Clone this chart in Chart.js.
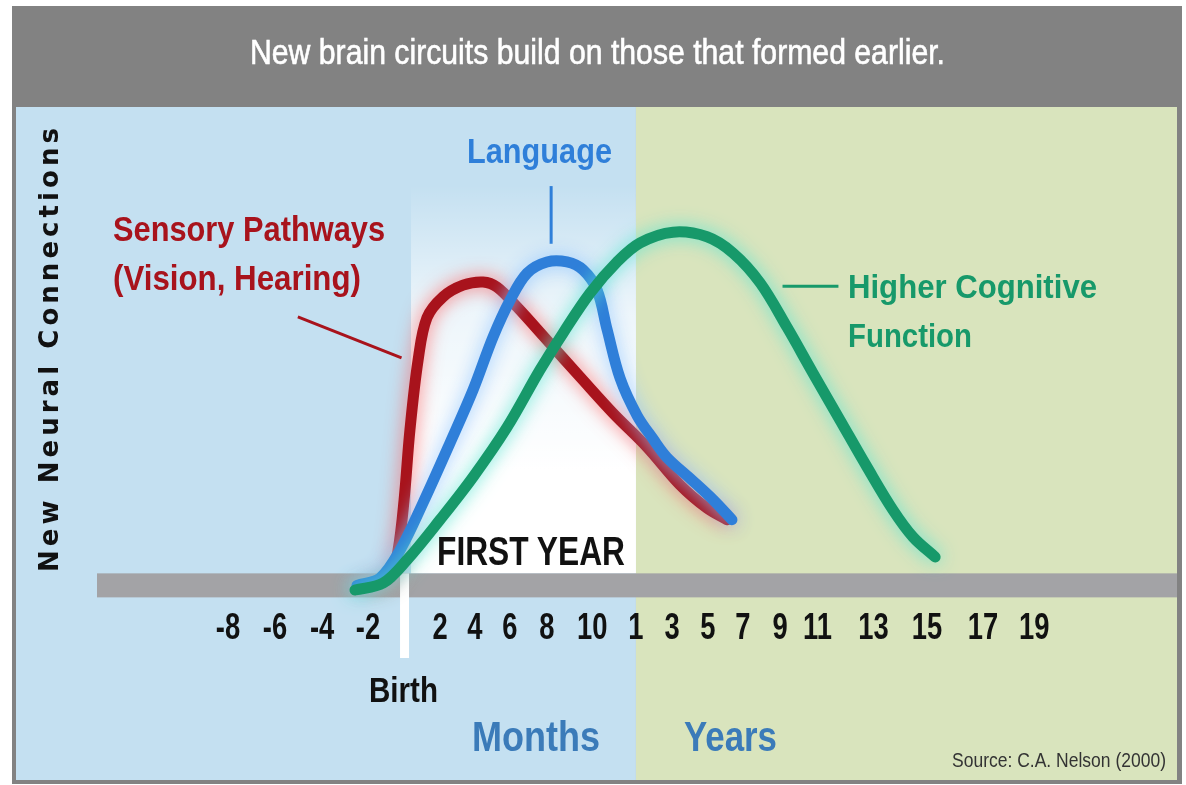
<!DOCTYPE html>
<html lang="en">
<head>
<meta charset="utf-8">
<title>New brain circuits build on those that formed earlier.</title>
<script src="https://cdn.jsdelivr.net/npm/chart.js@4.4.1/dist/chart.umd.min.js"></script>
<style>
html,body{margin:0;padding:0;background:#ffffff;overflow:hidden;}
#wrap{position:relative;width:1186px;height:785px;overflow:hidden;}
#frame{position:absolute;left:12px;top:6px;width:1170px;height:778px;background:#828282;}
#chart{position:absolute;left:0;top:0;}
.t{position:absolute;white-space:nowrap;margin:0;padding:0;}
</style>
</head>
<body>
<div id="wrap">
  <div id="frame"></div>
  <canvas id="chart" width="1186" height="785"></canvas>
</div>
<script>
// ---------------- DATA ----------------
const chartTitle = 'New brain circuits build on those that formed earlier.';
const yAxisTitle = 'New Neural Connections';
const sourceNote = 'Source: C.A. Nelson (2000)';

// x axis: tick labels (months before/after birth, then years) and their positions along the drawn axis
const tickLabels    = ['-8','-6','-4','-2','2','4','6','8','10','1','3','5','7','9','11','13','15','17','19'];
const tickPositions = [-7.6,-5.58,-3.56,-1.59,1.5,3.0,4.5,6.09,8.03,9.91,11.46,13.0,14.5,16.1,17.7,20.1,22.4,24.8,27.0];
const birthPosition = 0;
const firstYearEnd  = 9.91;   // the "1" (year) tick

// Sensory Pathways (Vision, Hearing)
const sensoryX = [-1.5,-0.64,-0.3,-0.04,0.21,0.56,0.94,1.63,2.49,3.35,3.95,4.81,6.09,7.51,8.93,10.39,11.8,12.96,13.82];
const sensoryY = [0,1.6,7.6,18.4,33.4,48.4,57.5,62.0,64.5,65.2,64.1,59.8,52.7,44.8,37.0,29.7,21.6,16.6,14.1];

// Language
const languageX = [-2.06,-1.07,-0.21,0.77,1.93,2.92,3.78,4.51,5.24,6.09,6.95,7.64,8.24,8.67,9.23,9.96,10.64,11.24,12.23,13.22,14.03];
const languageY = [0,1.6,7.6,17.7,30.6,42.0,53.4,61.3,67.1,69.5,69.5,67.8,63.5,55.0,44.5,36.5,31.5,27.5,23.0,18.4,14.1];

// Higher Cognitive Function
const cognitiveX = [-2.15,-0.94,0.09,1.5,2.92,4.38,5.79,6.78,7.94,9.1,10.09,11.5,12.96,14.08,15.24,16.39,17.51,18.67,19.83,20.94,21.8,22.75];
const cognitiveY = [-1.0,0.5,5.5,14.1,23.3,34.0,46.3,54.2,62.8,69.5,73.6,75.9,74.9,71.4,65.0,55.5,45.6,35.5,25.4,16.2,10.4,6.1];

// leader lines from labels to curves [x, y] in data units
const sensoryLeader   = [[-4.6, 57.7], [-0.15, 48.9]];
const languageLeader  = [[6.27, 85.8], [6.27, 73.4]];
const cognitiveLeader = [[16.2, 64.3], [18.6, 64.3]];

// ---------------- STYLE ----------------
const RED = '#a8131c', BLUE = '#2f7fd9', GREEN = '#17996a';
const BG_BLUE = '#c4e0f1', BG_GREEN = '#d9e4bd', BAR = '#a3a3a6';
const PANEL = {l:16, t:107, r:1177, b:780};
const AREA_BOTTOM = 597;

const pts = (xs, ys) => xs.map((v, i) => ({x: v, y: ys[i]}));

const backdrop = {
  id: 'backdrop',
  beforeDraw(chart) {
    const {ctx, chartArea} = chart;
    const x = chart.scales.x, y = chart.scales.y;
    const xb = x.getPixelForValue(birthPosition);
    const xf = x.getPixelForValue(firstYearEnd);
    const y0 = y.getPixelForValue(0);
    ctx.save();
    ctx.fillStyle = BG_BLUE;
    ctx.fillRect(PANEL.l, PANEL.t, xf - PANEL.l, PANEL.b - PANEL.t);
    ctx.fillStyle = BG_GREEN;
    ctx.fillRect(xf, PANEL.t, PANEL.r - xf, PANEL.b - PANEL.t);
    // first-year light area
    const top = 185;
    const g = ctx.createLinearGradient(0, top, 0, 470);
    g.addColorStop(0, 'rgba(255,255,255,0)');
    g.addColorStop(0.45, 'rgba(255,255,255,0.7)');
    g.addColorStop(1, 'rgba(255,255,255,1)');
    ctx.fillStyle = g;
    ctx.fillRect(xb + 6, top, xf - xb - 6, (y0 - 12) - top);
    // axis bar
    ctx.fillStyle = BAR;
    ctx.fillRect(chartArea.left, y0 - 12, PANEL.r - chartArea.left, 24);
    // birth marker
    ctx.fillStyle = '#ffffff';
    ctx.fillRect(xb - 5, y0 - 12, 9, 658 - (y0 - 12));
    ctx.restore();
  },
  beforeDatasetsDraw(chart) {
    const {ctx} = chart;
    const x = chart.scales.x, y = chart.scales.y;
    const lines = [[sensoryLeader, RED], [languageLeader, BLUE], [cognitiveLeader, GREEN]];
    ctx.save();
    ctx.lineWidth = 3;
    for (const [seg, col] of lines) {
      ctx.strokeStyle = col;
      ctx.beginPath();
      ctx.moveTo(x.getPixelForValue(seg[0][0]), y.getPixelForValue(seg[0][1]));
      ctx.lineTo(x.getPixelForValue(seg[1][0]), y.getPixelForValue(seg[1][1]));
      ctx.stroke();
    }
    ctx.restore();
  },
  beforeDatasetDraw(chart, args) {
    const ds = chart.data.datasets[args.index];
    chart.ctx.save();
    chart.ctx.shadowColor = ds.glowColor;
    chart.ctx.shadowBlur = 18;
  },
  afterDatasetDraw(chart) {
    chart.ctx.restore();
  },
  afterDraw(chart) {
    // x tick labels from the axis' own ticks, drawn in a condensed bold face
    const {ctx, chartArea} = chart;
    const x = chart.scales.x;
    ctx.save();
    ctx.font = 'bold 36px "Liberation Sans", Arial, sans-serif';
    ctx.fillStyle = '#111111';
    ctx.textAlign = 'center';
    ctx.textBaseline = 'alphabetic';
    const base = chartArea.bottom + 42;
    x.ticks.forEach(t => {
      ctx.save();
      ctx.translate(x.getPixelForValue(t.value), base);
      ctx.scale(0.76, 1);
      ctx.fillText(t.label, 0, 0);
      ctx.restore();
    });
    ctx.restore();
  }
};

const lineStyle = {pointRadius:0, borderWidth:11, tension:0.35, borderCapStyle:'round', borderJoinStyle:'round', fill:false, clip:false};

new Chart(document.getElementById('chart'), {
  type: 'line',
  data: {
    datasets: [
      Object.assign({label:'Higher Cognitive Function', data: pts(cognitiveX, cognitiveY), borderColor: GREEN, glowColor:'rgba(90,230,210,0.9)'}, lineStyle),
      Object.assign({label:'Language', data: pts(languageX, languageY), borderColor: BLUE, glowColor:'rgba(150,200,255,0.95)'}, lineStyle),
      Object.assign({label:'Sensory Pathways (Vision, Hearing)', data: pts(sensoryX, sensoryY), borderColor: RED, glowColor:'rgba(255,90,90,0.8)'}, lineStyle)
    ]
  },
  options: {
    responsive: false,
    animation: false,
    devicePixelRatio: 1,
    layout: {padding: {left: 97, right: 1186 - PANEL.r, top: 120, bottom: 785 - AREA_BOTTOM}},
    plugins: {legend: {display: false}, tooltip: {enabled: false}, title: {display: false}},
    scales: {
      x: {
        type: 'linear', min: -13.22, max: 33.13,
        grid: {display: false, drawTicks: false},
        border: {display: false},
        afterBuildTicks: s => { s.ticks = tickPositions.map(v => ({value: v})); },
        ticks: {display: false, autoSkip: false, callback: (v, i) => tickLabels[i]}
      },
      y: {type: 'linear', min: -2.5, max: 100, display: false}
    }
  },
  plugins: [backdrop]
});

// ---------------- TEXT ----------------
const wrap = document.getElementById('wrap');
function placeText(o) {
  const el = document.createElement('div');
  el.className = 't';
  el.textContent = o.text;
  el.style.fontFamily = '"Liberation Sans", Arial, sans-serif';
  el.style.fontSize = o.size + 'px';
  el.style.lineHeight = o.size + 'px';
  el.style.fontWeight = o.weight;
  el.style.color = o.color;
  if (o.stroke) el.style.webkitTextStroke = o.stroke + 'px ' + o.color;
  el.style.left = o.x + 'px';
  el.style.top = (o.base - 0.8465 * o.size) + 'px';
  wrap.appendChild(el);
  const nat = el.getBoundingClientRect().width;
  el.style.transformOrigin = '0 0';
  el.style.transform = 'scaleX(' + (o.w / nat).toFixed(4) + ')';
}
[
  {text: chartTitle, x: 250, base: 64, size: 35, weight: 400, color: '#ffffff', w: 695, stroke: 0.6},
  {text: 'Sensory Pathways', x: 113, base: 241, size: 35, weight: 700, color: RED, w: 272},
  {text: '(Vision, Hearing)', x: 113, base: 290, size: 35, weight: 700, color: RED, w: 248},
  {text: 'Language', x: 467, base: 163, size: 35, weight: 700, color: BLUE, w: 145},
  {text: 'Higher Cognitive', x: 848, base: 298, size: 33, weight: 700, color: GREEN, w: 249},
  {text: 'Function', x: 848, base: 347, size: 33, weight: 700, color: GREEN, w: 124},
  {text: 'FIRST YEAR', x: 437, base: 565, size: 40, weight: 700, color: '#111111', w: 188},
  {text: 'Birth', x: 369, base: 702, size: 35, weight: 700, color: '#111111', w: 69},
  {text: 'Months', x: 472, base: 752, size: 42, weight: 700, color: '#3b7bb9', w: 128},
  {text: 'Years', x: 684, base: 752, size: 42, weight: 700, color: '#3b7bb9', w: 93},
  {text: sourceNote, x: 952, base: 767, size: 21, weight: 400, color: '#333333', w: 214}
].forEach(placeText);

// rotated y-axis title
(function(){
  const el = document.createElement('div');
  el.className = 't';
  el.textContent = yAxisTitle;
  el.style.fontFamily = '"DejaVu Sans", Verdana, sans-serif';
  el.style.fontWeight = '700';
  el.style.fontSize = '26px';
  el.style.lineHeight = '26px';
  el.style.color = '#111111';
  wrap.appendChild(el);
  const nat = el.getBoundingClientRect().width;
  const n = yAxisTitle.length;
  const ls = Math.max(0, (444 - nat) / (n - 1));
  el.style.letterSpacing = ls.toFixed(2) + 'px';
  const w = nat + ls * (n - 1);
  el.style.width = (w + ls + 2) + 'px';
  el.style.left = (48.5 - w / 2) + 'px';
  el.style.top = (350 - 13) + 'px';
  el.style.transformOrigin = (w / 2) + 'px 13px';
  el.style.transform = 'rotate(-90deg)';
})();
</script>
</body>
</html>
